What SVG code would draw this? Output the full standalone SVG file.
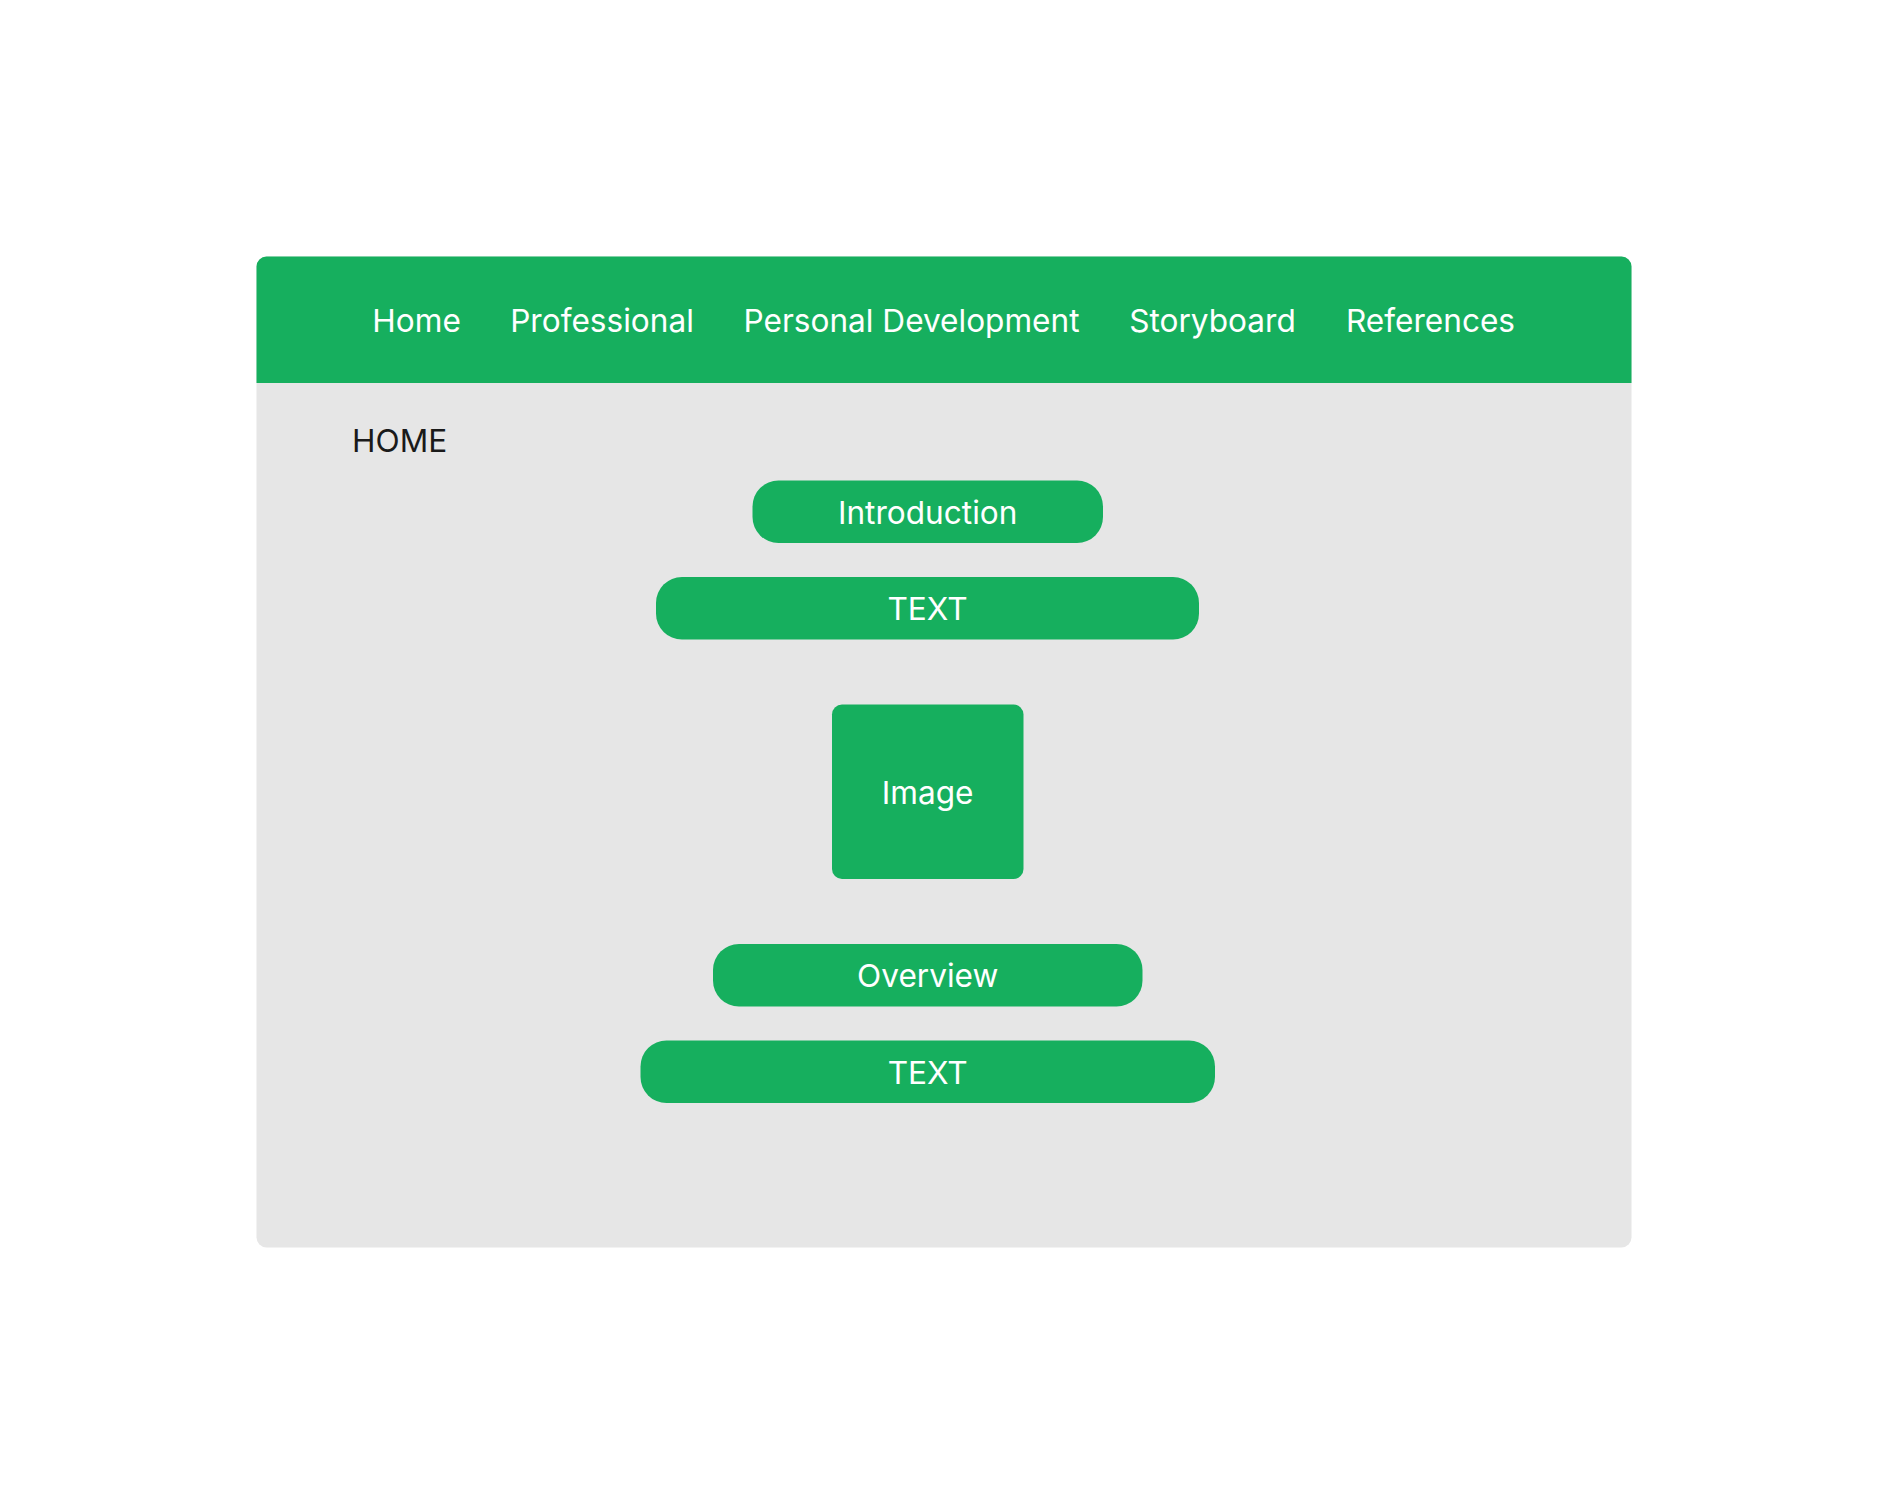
<svg xmlns="http://www.w3.org/2000/svg" width="1888" height="1504" viewBox="0 0 1888 1504">
<style>
.g{fill:#16af5e}
.w{fill:#ffffff;font-family:Inter,"Liberation Sans",sans-serif;font-size:31.6px;text-anchor:middle;dominant-baseline:central}
.d{fill:#1a1a1a;font-family:Inter,"Liberation Sans",sans-serif;font-size:31.6px;dominant-baseline:central}
</style>
<rect width="1888" height="1504" fill="#ffffff"/>
<g id="frame">
<rect x="256.5" y="256.5" width="1375" height="991" rx="10" fill="#e6e6e6"/>
<path class="g" d="M266.5,256.5 H1621.5 A10,10 0 0 1 1631.5,266.5 V383 H256.5 V266.5 A10,10 0 0 1 266.5,256.5 Z"/>
</g>
<g id="nav">
<text class="w" x="416.6" y="320">Home</text>
<text class="w" x="602" y="320">Professional</text>
<text class="w" x="911.5" y="320">Personal Development</text>
<text class="w" x="1212.5" y="320">Storyboard</text>
<text class="w" x="1430.5" y="320">References</text>
</g>
<g id="home-title"><text class="d" x="352" y="440.5">HOME</text></g>
<g id="introduction"><rect class="g" x="752.5" y="480.5" width="350.5" height="62.5" rx="26"/><text class="w" x="927.7" y="512">Introduction</text></g>
<g id="text1"><rect class="g" x="656" y="577" width="543" height="62.5" rx="26"/><text class="w" x="927.5" y="608">TEXT</text></g>
<g id="image"><rect class="g" x="832" y="704.5" width="191.5" height="174.5" rx="10"/><text class="w" x="927.7" y="792">Image</text></g>
<g id="overview"><rect class="g" x="713" y="944" width="429.5" height="62.5" rx="26"/><text class="w" x="927.7" y="975.5">Overview</text></g>
<g id="text2"><rect class="g" x="640.5" y="1040.5" width="574.5" height="62.5" rx="26"/><text class="w" x="927.7" y="1072">TEXT</text></g>
<g id="connectors"></g>
</svg>
